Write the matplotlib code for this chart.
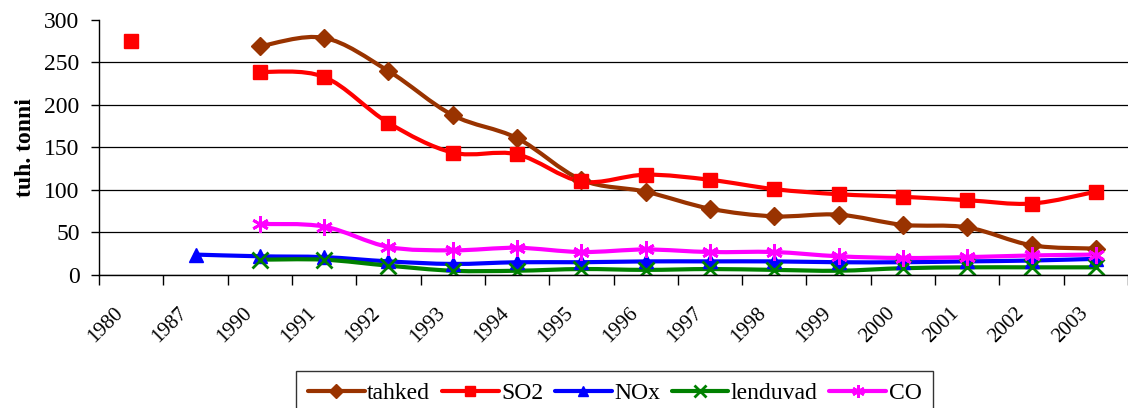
import numpy as np
import matplotlib
matplotlib.use("Agg")
import matplotlib.pyplot as plt
from matplotlib.path import Path
from matplotlib.patches import PathPatch
from matplotlib.lines import Line2D
import matplotlib.transforms as mtransforms

plt.rcParams["font.family"] = ["Liberation Serif", "DejaVu Serif"]

years = ["1980", "1987", "1990", "1991", "1992", "1993", "1994", "1995",
         "1996", "1997", "1998", "1999", "2000", "2001", "2002", "2003"]

tahked = [None, None, 269, 279, 240, 188, 161, 112, 98, 78, 69, 71, 59, 56, 35, 31]
so2 = [275, None, 239, 233, 179, 144, 142, 110, 118, 112, 101, 95, 92, 88, 84, 98]
nox = [None, 24, 22, 21, 16, 13, 15, 15, 16, 16, 16, 15, 15, 16, 17, 19]
lenduvad = [None, None, 18, 18, 11, 5, 5, 7, 6, 7, 6, 5, 8, 9, 9, 9]
co = [None, None, 60, 57, 33, 29, 32, 27, 30, 27, 27, 22, 20, 21, 23, 24]

series = [
    ("tahked", tahked, "#993300", "D", 9),
    ("SO2", so2, "#FF0000", "s", 10.5),
    ("NOx", nox, "#0000FF", "^", 10.5),
    ("lenduvad", lenduvad, "#008000", "x", 11),
    ("CO", co, "#FF00FF", (6, 2, 0), 12),
]


def smooth_path(xs, ys):
    # bezier curve through the points, like excel's smoothed line
    pts = np.column_stack([xs, ys])
    verts = [pts[0]]
    codes = [Path.MOVETO]
    n = len(pts)
    for i in range(n - 1):
        p0 = pts[i - 1] if i > 0 else pts[i]
        p1 = pts[i]
        p2 = pts[i + 1]
        p3 = pts[i + 2] if i + 2 < n else pts[i + 1]
        verts += [p1 + (p2 - p0) / 6.0, p2 - (p3 - p1) / 6.0, p2]
        codes += [Path.CURVE4] * 3
    return Path(verts, codes)


fig = plt.figure(figsize=(11.28, 4.08), dpi=100)
ax = fig.add_axes([0.0878, 0.326, 0.9122, 0.625])

x = np.arange(len(years)) + 0.5
handles = []
for name, vals, color, marker, ms in series:
    v = np.array([np.nan if a is None else a for a in vals], dtype=float)
    ok = ~np.isnan(v)
    # split into runs of consecutive values
    runs = []
    cur = []
    for i in range(len(v)):
        if ok[i]:
            cur.append(i)
        else:
            if cur:
                runs.append(cur)
            cur = []
    if cur:
        runs.append(cur)
    for r in runs:
        if len(r) > 1:
            ax.add_patch(PathPatch(smooth_path(x[r], v[r]), fill=False,
                                   edgecolor=color, lw=3, capstyle="round",
                                   joinstyle="round"))
    mew = 2 if marker in ("x",) or isinstance(marker, tuple) else 1
    ax.plot(x[ok], v[ok], ls="none", marker=marker, ms=ms, color=color,
            mec=color, mew=mew)
    handles.append(Line2D([], [], color=color, lw=3, marker=marker,
                          ms=ms * 0.75, mew=mew, solid_capstyle="round"))

ax.set_xlim(0, len(years))
ax.set_ylim(0, 300)
ax.set_yticks(range(0, 301, 50))
ax.tick_params(axis="y", labelsize=17, length=6, width=1, direction="out",
               pad=8)
ax.set_xticks(range(len(years) + 1))
ax.set_xticklabels([])
ax.set_xticks(x, minor=True)
ax.set_xticklabels(years, minor=True, rotation=45, ha="right", va="top",
                   fontsize=15)
ax.tick_params(axis="x", which="major", length=7, width=1, direction="out")
ax.tick_params(axis="x", which="minor", length=0, pad=21)
shift = mtransforms.ScaledTranslation(-4 / 100, 0, fig.dpi_scale_trans)
for lab in ax.get_xticklabels(minor=True):
    lab.set_transform(lab.get_transform() + shift)

ax.yaxis.grid(True, color="black", lw=0.9)
ax.get_ygridlines()[-1].set_visible(False)
ax.set_axisbelow(True)
for s in ["top", "right"]:
    ax.spines[s].set_visible(False)
for s in ["left", "bottom"]:
    ax.spines[s].set_linewidth(1)
    ax.spines[s].set_color("black")

ax.set_ylabel("tuh. tonni", fontsize=17, fontweight="bold", labelpad=6)

leg = fig.legend(handles, [s[0] for s in series], loc="upper center",
                 bbox_to_anchor=(0.545, 0.091), ncol=5, fontsize=17,
                 frameon=True, fancybox=False, handlelength=2.4,
                 handletextpad=0.1, columnspacing=0.5, borderpad=0.5,
                 borderaxespad=0)
leg.get_frame().set_edgecolor("black")
leg.get_frame().set_linewidth(1)

fig.savefig("out.png", dpi=100)
